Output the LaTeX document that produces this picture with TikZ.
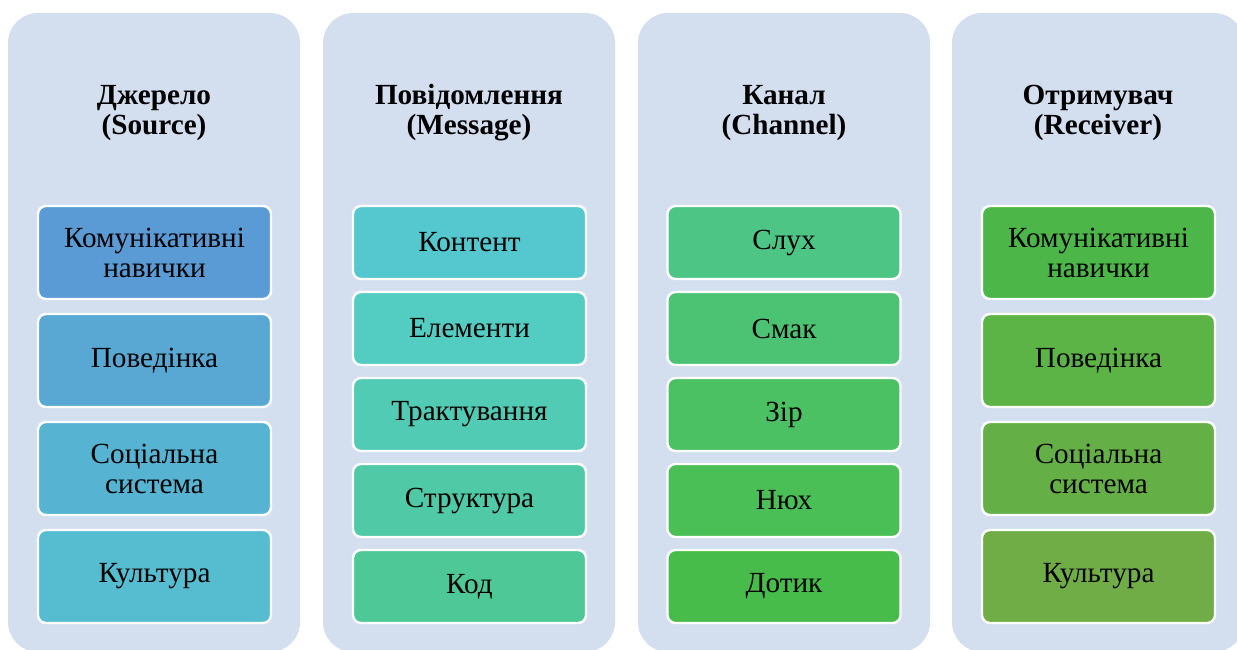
\documentclass[tikz,border=0pt]{standalone}
\usepackage{fontspec}
\setmainfont{Liberation Serif}
\usepackage{tikz}
\usetikzlibrary{positioning}
\usepackage{xcolor}

\definecolor{panelbg}{HTML}{D3DEEF}
% source
\definecolor{srcA}{HTML}{5B9BD5}
\definecolor{srcB}{HTML}{58A8D3}
\definecolor{srcC}{HTML}{56B3D1}
\definecolor{srcD}{HTML}{56BDD0}
% message
\definecolor{msgA}{HTML}{54C8CE}
\definecolor{msgB}{HTML}{53CDC2}
\definecolor{msgC}{HTML}{51CBB4}
\definecolor{msgD}{HTML}{4FC9A6}
\definecolor{msgE}{HTML}{4EC897}
% channel
\definecolor{chnA}{HTML}{4DC585}
\definecolor{chnB}{HTML}{4CC373}
\definecolor{chnC}{HTML}{4BC163}
\definecolor{chnD}{HTML}{49BF55}
\definecolor{chnE}{HTML}{48BC4A}
% receiver
\definecolor{rcvA}{HTML}{4CB748}
\definecolor{rcvB}{HTML}{5CB447}
\definecolor{rcvC}{HTML}{64B047}
\definecolor{rcvD}{HTML}{70AD47}

\begin{document}
\begin{tikzpicture}[x=0.5pt, y=-0.5pt,
  panel/.style={fill=panelbg, rounded corners=15pt, minimum width=146pt, minimum height=319.5pt, inner sep=0pt},
  title/.style={font=\bfseries\fontsize{14.6}{15}\selectfont, align=center},
  item/.style={draw=white, line width=1.2pt, rounded corners=4pt, minimum width=116.5pt,
    inner sep=0pt, align=center, font=\fontsize{14.6}{15}\selectfont},
  tallitem/.style={item, minimum height=46.5pt},
  shortitem/.style={item, minimum height=36.5pt}]
  \useasboundingbox (0,0) rectangle (1237,649);
  \clip (0,0) rectangle (1237,649);

  % panels
  \node[panel] (src) at (154,332.5) {};
  \node[panel] (msg) at (469,332.5) {};
  \node[panel] (chn) at (784,332.5) {};
  \node[panel] (rcv) at (1098,332.5) {};

  % titles
  \node[title] (srctitle) at (154,113) {Джерело\\(Source)};
  \node[title] (msgtitle) at (469,113) {Повідомлення\\(Message)};
  \node[title] (chntitle) at (784,113) {Канал\\(Channel)};
  \node[title] (rcvtitle) at (1098,113) {Отримувач\\(Receiver)};

  % source
  \node[tallitem, fill=srcA] (src1) at (154.5,252.5) {Комунікативні\\навички};
  \node[tallitem, fill=srcB] (src2) at (154.5,360.5) {Поведінка};
  \node[tallitem, fill=srcC] (src3) at (154.5,468.5) {Соціальна\\система};
  \node[tallitem, fill=srcD] (src4) at (154.5,576.5) {Культура};

  % message
  \node[shortitem, fill=msgA] (msg1) at (469.5,242.5) {Контент};
  \node[shortitem, fill=msgB] (msg2) at (469.5,328.5) {Елементи};
  \node[shortitem, fill=msgC] (msg3) at (469.5,414.5) {Трактування};
  \node[shortitem, fill=msgD] (msg4) at (469.5,500.5) {Структура};
  \node[shortitem, fill=msgE] (msg5) at (469.5,586.5) {Код};

  % channel
  \node[shortitem, fill=chnA] (chn1) at (784,242.5) {Слух};
  \node[shortitem, fill=chnB] (chn2) at (784,328.5) {Смак};
  \node[shortitem, fill=chnC] (chn3) at (784,414.5) {Зір};
  \node[shortitem, fill=chnD] (chn4) at (784,500.5) {Нюх};
  \node[shortitem, fill=chnE] (chn5) at (784,586.5) {Дотик};

  % receiver
  \node[tallitem, fill=rcvA] (rcv1) at (1098.5,252.5) {Комунікативні\\навички};
  \node[tallitem, fill=rcvB] (rcv2) at (1098.5,360.5) {Поведінка};
  \node[tallitem, fill=rcvC] (rcv3) at (1098.5,468.5) {Соціальна\\система};
  \node[tallitem, fill=rcvD] (rcv4) at (1098.5,576.5) {Культура};
\end{tikzpicture}
\end{document}
